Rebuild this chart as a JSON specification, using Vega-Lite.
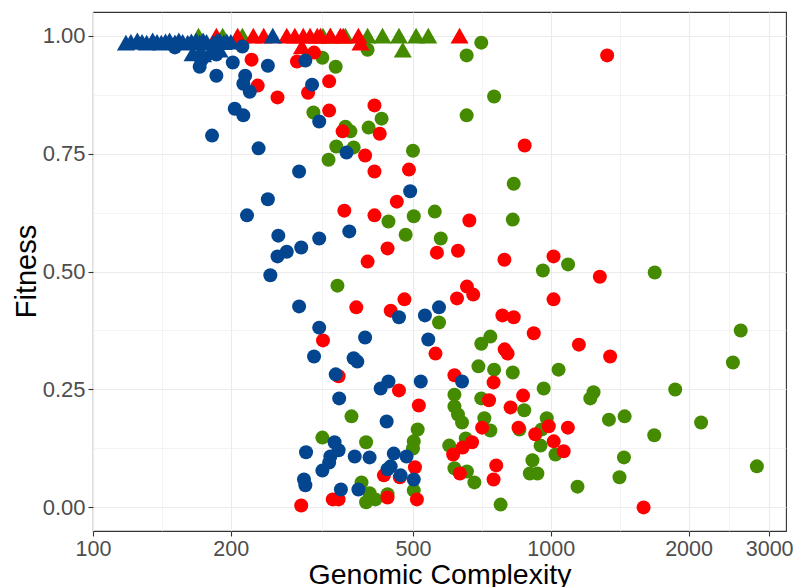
{
"$schema": "https://vega.github.io/schema/vega-lite/v6.json",
"width": 693, "height": 519,
"autosize": {"type": "none"},
"padding": {"left": 93, "top": 12, "right": 8, "bottom": 56},
"background": "white",
"config": {"view": {"stroke": "#333333", "strokeWidth": 1.1}, "font": "Liberation Sans"},
"data": {"values": [
{"group":"G","marker":"triangle","complexity":170,"fitness":1},
{"group":"G","marker":"triangle","complexity":192,"fitness":1},
{"group":"G","marker":"triangle","complexity":212,"fitness":1},
{"group":"G","marker":"triangle","complexity":318,"fitness":1},
{"group":"G","marker":"triangle","complexity":330,"fitness":1},
{"group":"G","marker":"triangle","complexity":356,"fitness":1},
{"group":"G","marker":"triangle","complexity":398,"fitness":1},
{"group":"G","marker":"triangle","complexity":429,"fitness":1},
{"group":"G","marker":"triangle","complexity":466,"fitness":1},
{"group":"G","marker":"triangle","complexity":475,"fitness":0.97},
{"group":"G","marker":"triangle","complexity":508,"fitness":1},
{"group":"G","marker":"triangle","complexity":540,"fitness":1},
{"group":"G","marker":"circle","complexity":317,"fitness":0.953},
{"group":"G","marker":"circle","complexity":339,"fitness":0.934},
{"group":"G","marker":"circle","complexity":398,"fitness":0.970},
{"group":"G","marker":"circle","complexity":303,"fitness":0.837},
{"group":"G","marker":"circle","complexity":356,"fitness":0.807},
{"group":"G","marker":"circle","complexity":365,"fitness":0.797},
{"group":"G","marker":"circle","complexity":400,"fitness":0.805},
{"group":"G","marker":"circle","complexity":427,"fitness":0.824},
{"group":"G","marker":"circle","complexity":340,"fitness":0.765},
{"group":"G","marker":"circle","complexity":371,"fitness":0.763},
{"group":"G","marker":"circle","complexity":327,"fitness":0.737},
{"group":"G","marker":"circle","complexity":500,"fitness":0.756},
{"group":"G","marker":"circle","complexity":655,"fitness":0.958},
{"group":"G","marker":"circle","complexity":705,"fitness":0.985},
{"group":"G","marker":"circle","complexity":655,"fitness":0.831},
{"group":"G","marker":"circle","complexity":752,"fitness":0.871},
{"group":"G","marker":"circle","complexity":830,"fitness":0.686},
{"group":"G","marker":"circle","complexity":442,"fitness":0.606},
{"group":"G","marker":"circle","complexity":502,"fitness":0.617},
{"group":"G","marker":"circle","complexity":558,"fitness":0.627},
{"group":"G","marker":"circle","complexity":482,"fitness":0.578},
{"group":"G","marker":"circle","complexity":575,"fitness":0.570},
{"group":"G","marker":"circle","complexity":342,"fitness":0.470},
{"group":"G","marker":"circle","complexity":570,"fitness":0.392},
{"group":"G","marker":"circle","complexity":826,"fitness":0.610},
{"group":"G","marker":"circle","complexity":961,"fitness":0.502},
{"group":"G","marker":"circle","complexity":1091,"fitness":0.515},
{"group":"G","marker":"circle","complexity":1687,"fitness":0.498},
{"group":"G","marker":"circle","complexity":2600,"fitness":0.375},
{"group":"G","marker":"circle","complexity":738,"fitness":0.362},
{"group":"G","marker":"circle","complexity":705,"fitness":0.347},
{"group":"G","marker":"circle","complexity":367,"fitness":0.193},
{"group":"G","marker":"circle","complexity":512,"fitness":0.165},
{"group":"G","marker":"circle","complexity":317,"fitness":0.148},
{"group":"G","marker":"circle","complexity":395,"fitness":0.138},
{"group":"G","marker":"circle","complexity":502,"fitness":0.140},
{"group":"G","marker":"circle","complexity":500,"fitness":0.125},
{"group":"G","marker":"circle","complexity":386,"fitness":0.053},
{"group":"G","marker":"circle","complexity":402,"fitness":0.030},
{"group":"G","marker":"circle","complexity":440,"fitness":0.028},
{"group":"G","marker":"circle","complexity":502,"fitness":0.036},
{"group":"G","marker":"circle","complexity":395,"fitness":0.011},
{"group":"G","marker":"circle","complexity":414,"fitness":0.017},
{"group":"G","marker":"circle","complexity":2500,"fitness":0.307},
{"group":"G","marker":"circle","complexity":695,"fitness":0.299},
{"group":"G","marker":"circle","complexity":752,"fitness":0.292},
{"group":"G","marker":"circle","complexity":826,"fitness":0.286},
{"group":"G","marker":"circle","complexity":1040,"fitness":0.292},
{"group":"G","marker":"circle","complexity":616,"fitness":0.239},
{"group":"G","marker":"circle","complexity":705,"fitness":0.231},
{"group":"G","marker":"circle","complexity":965,"fitness":0.252},
{"group":"G","marker":"circle","complexity":1240,"fitness":0.244},
{"group":"G","marker":"circle","complexity":1220,"fitness":0.231},
{"group":"G","marker":"circle","complexity":1870,"fitness":0.250},
{"group":"G","marker":"circle","complexity":875,"fitness":0.206},
{"group":"G","marker":"circle","complexity":616,"fitness":0.214},
{"group":"G","marker":"circle","complexity":627,"fitness":0.197},
{"group":"G","marker":"circle","complexity":640,"fitness":0.180},
{"group":"G","marker":"circle","complexity":716,"fitness":0.189},
{"group":"G","marker":"circle","complexity":738,"fitness":0.163},
{"group":"G","marker":"circle","complexity":854,"fitness":0.165},
{"group":"G","marker":"circle","complexity":980,"fitness":0.189},
{"group":"G","marker":"circle","complexity":955,"fitness":0.165},
{"group":"G","marker":"circle","complexity":950,"fitness":0.131},
{"group":"G","marker":"circle","complexity":1024,"fitness":0.112},
{"group":"G","marker":"circle","complexity":1340,"fitness":0.186},
{"group":"G","marker":"circle","complexity":1450,"fitness":0.193},
{"group":"G","marker":"circle","complexity":1683,"fitness":0.153},
{"group":"G","marker":"circle","complexity":2130,"fitness":0.180},
{"group":"G","marker":"circle","complexity":600,"fitness":0.131},
{"group":"G","marker":"circle","complexity":652,"fitness":0.146},
{"group":"G","marker":"circle","complexity":616,"fitness":0.083},
{"group":"G","marker":"circle","complexity":656,"fitness":0.076},
{"group":"G","marker":"circle","complexity":681,"fitness":0.053},
{"group":"G","marker":"circle","complexity":777,"fitness":0.006},
{"group":"G","marker":"circle","complexity":912,"fitness":0.100},
{"group":"G","marker":"circle","complexity":900,"fitness":0.072},
{"group":"G","marker":"circle","complexity":935,"fitness":0.072},
{"group":"G","marker":"circle","complexity":1144,"fitness":0.044},
{"group":"G","marker":"circle","complexity":1445,"fitness":0.106},
{"group":"G","marker":"circle","complexity":1413,"fitness":0.064},
{"group":"G","marker":"circle","complexity":2820,"fitness":0.087},
{"group":"R","marker":"triangle","complexity":186,"fitness":1},
{"group":"R","marker":"triangle","complexity":207,"fitness":1},
{"group":"R","marker":"triangle","complexity":224,"fitness":1},
{"group":"R","marker":"triangle","complexity":236,"fitness":1},
{"group":"R","marker":"triangle","complexity":265,"fitness":1},
{"group":"R","marker":"triangle","complexity":276,"fitness":1},
{"group":"R","marker":"triangle","complexity":286,"fitness":0.977},
{"group":"R","marker":"triangle","complexity":288,"fitness":1},
{"group":"R","marker":"triangle","complexity":298,"fitness":1},
{"group":"R","marker":"triangle","complexity":309,"fitness":1},
{"group":"R","marker":"triangle","complexity":314,"fitness":1},
{"group":"R","marker":"triangle","complexity":330,"fitness":1},
{"group":"R","marker":"triangle","complexity":347,"fitness":1},
{"group":"R","marker":"triangle","complexity":352,"fitness":1},
{"group":"R","marker":"triangle","complexity":380,"fitness":1},
{"group":"R","marker":"triangle","complexity":384,"fitness":0.985},
{"group":"R","marker":"triangle","complexity":632,"fitness":1},
{"group":"R","marker":"circle","complexity":222,"fitness":0.949},
{"group":"R","marker":"circle","complexity":229,"fitness":0.894},
{"group":"R","marker":"circle","complexity":253,"fitness":0.869},
{"group":"R","marker":"circle","complexity":279,"fitness":0.945},
{"group":"R","marker":"circle","complexity":304,"fitness":0.964},
{"group":"R","marker":"circle","complexity":328,"fitness":0.903},
{"group":"R","marker":"circle","complexity":295,"fitness":0.879},
{"group":"R","marker":"circle","complexity":328,"fitness":0.841},
{"group":"R","marker":"circle","complexity":412,"fitness":0.852},
{"group":"R","marker":"circle","complexity":423,"fitness":0.792},
{"group":"R","marker":"circle","complexity":351,"fitness":0.797},
{"group":"R","marker":"circle","complexity":393,"fitness":0.746},
{"group":"R","marker":"circle","complexity":1328,"fitness":0.958},
{"group":"R","marker":"circle","complexity":877,"fitness":0.767},
{"group":"R","marker":"circle","complexity":412,"fitness":0.712},
{"group":"R","marker":"circle","complexity":490,"fitness":0.716},
{"group":"R","marker":"circle","complexity":461,"fitness":0.648},
{"group":"R","marker":"circle","complexity":354,"fitness":0.629},
{"group":"R","marker":"circle","complexity":412,"fitness":0.619},
{"group":"R","marker":"circle","complexity":440,"fitness":0.549},
{"group":"R","marker":"circle","complexity":398,"fitness":0.521},
{"group":"R","marker":"circle","complexity":564,"fitness":0.540},
{"group":"R","marker":"circle","complexity":376,"fitness":0.424},
{"group":"R","marker":"circle","complexity":447,"fitness":0.417},
{"group":"R","marker":"circle","complexity":479,"fitness":0.441},
{"group":"R","marker":"circle","complexity":318,"fitness":0.354},
{"group":"R","marker":"circle","complexity":664,"fitness":0.608},
{"group":"R","marker":"circle","complexity":627,"fitness":0.544},
{"group":"R","marker":"circle","complexity":792,"fitness":0.525},
{"group":"R","marker":"circle","complexity":1014,"fitness":0.532},
{"group":"R","marker":"circle","complexity":1280,"fitness":0.489},
{"group":"R","marker":"circle","complexity":656,"fitness":0.468},
{"group":"R","marker":"circle","complexity":677,"fitness":0.451},
{"group":"R","marker":"circle","complexity":624,"fitness":0.443},
{"group":"R","marker":"circle","complexity":1014,"fitness":0.441},
{"group":"R","marker":"circle","complexity":784,"fitness":0.407},
{"group":"R","marker":"circle","complexity":830,"fitness":0.403},
{"group":"R","marker":"circle","complexity":918,"fitness":0.369},
{"group":"R","marker":"circle","complexity":793,"fitness":0.335},
{"group":"R","marker":"circle","complexity":805,"fitness":0.326},
{"group":"R","marker":"circle","complexity":1152,"fitness":0.345},
{"group":"R","marker":"circle","complexity":560,"fitness":0.326},
{"group":"R","marker":"circle","complexity":1348,"fitness":0.320},
{"group":"R","marker":"circle","complexity":344,"fitness":0.278},
{"group":"R","marker":"circle","complexity":466,"fitness":0.248},
{"group":"R","marker":"circle","complexity":515,"fitness":0.216},
{"group":"R","marker":"circle","complexity":616,"fitness":0.280},
{"group":"R","marker":"circle","complexity":750,"fitness":0.265},
{"group":"R","marker":"circle","complexity":733,"fitness":0.227},
{"group":"R","marker":"circle","complexity":870,"fitness":0.237},
{"group":"R","marker":"circle","complexity":817,"fitness":0.212},
{"group":"R","marker":"circle","complexity":708,"fitness":0.169},
{"group":"R","marker":"circle","complexity":850,"fitness":0.169},
{"group":"R","marker":"circle","complexity":990,"fitness":0.172},
{"group":"R","marker":"circle","complexity":1090,"fitness":0.169},
{"group":"R","marker":"circle","complexity":925,"fitness":0.155},
{"group":"R","marker":"circle","complexity":1015,"fitness":0.140},
{"group":"R","marker":"circle","complexity":1067,"fitness":0.119},
{"group":"R","marker":"circle","complexity":612,"fitness":0.112},
{"group":"R","marker":"circle","complexity":642,"fitness":0.127},
{"group":"R","marker":"circle","complexity":673,"fitness":0.138},
{"group":"R","marker":"circle","complexity":432,"fitness":0.068},
{"group":"R","marker":"circle","complexity":468,"fitness":0.064},
{"group":"R","marker":"circle","complexity":505,"fitness":0.085},
{"group":"R","marker":"circle","complexity":440,"fitness":0.021},
{"group":"R","marker":"circle","complexity":285,"fitness":0.004},
{"group":"R","marker":"circle","complexity":334,"fitness":0.017},
{"group":"R","marker":"circle","complexity":344,"fitness":0.017},
{"group":"R","marker":"circle","complexity":510,"fitness":0.017},
{"group":"R","marker":"circle","complexity":633,"fitness":0.072},
{"group":"R","marker":"circle","complexity":760,"fitness":0.089},
{"group":"R","marker":"circle","complexity":750,"fitness":0.059},
{"group":"R","marker":"circle","complexity":1595,"fitness":0.0},
{"group":"B","marker":"triangle","complexity":118,"fitness":0.985},
{"group":"B","marker":"triangle","complexity":121,"fitness":0.987},
{"group":"B","marker":"triangle","complexity":125,"fitness":0.99},
{"group":"B","marker":"triangle","complexity":128,"fitness":0.987},
{"group":"B","marker":"triangle","complexity":131,"fitness":0.985},
{"group":"B","marker":"triangle","complexity":135,"fitness":0.99},
{"group":"B","marker":"triangle","complexity":138,"fitness":0.987},
{"group":"B","marker":"triangle","complexity":141,"fitness":0.985},
{"group":"B","marker":"triangle","complexity":144,"fitness":0.988},
{"group":"B","marker":"triangle","complexity":147,"fitness":0.99},
{"group":"B","marker":"triangle","complexity":151,"fitness":0.986},
{"group":"B","marker":"triangle","complexity":154,"fitness":0.99},
{"group":"B","marker":"triangle","complexity":157,"fitness":0.987},
{"group":"B","marker":"triangle","complexity":161,"fitness":0.985},
{"group":"B","marker":"triangle","complexity":164,"fitness":0.988},
{"group":"B","marker":"triangle","complexity":168,"fitness":0.99},
{"group":"B","marker":"triangle","complexity":171,"fitness":0.986},
{"group":"B","marker":"triangle","complexity":174,"fitness":0.99},
{"group":"B","marker":"triangle","complexity":177,"fitness":0.987},
{"group":"B","marker":"triangle","complexity":183,"fitness":0.985},
{"group":"B","marker":"triangle","complexity":186,"fitness":0.988},
{"group":"B","marker":"triangle","complexity":189,"fitness":0.99},
{"group":"B","marker":"triangle","complexity":193,"fitness":0.986},
{"group":"B","marker":"triangle","complexity":196,"fitness":0.988},
{"group":"B","marker":"triangle","complexity":200,"fitness":0.987},
{"group":"B","marker":"triangle","complexity":247,"fitness":1},
{"group":"B","marker":"triangle","complexity":165,"fitness":0.962},
{"group":"B","marker":"triangle","complexity":174,"fitness":0.96},
{"group":"B","marker":"triangle","complexity":180,"fitness":0.965},
{"group":"B","marker":"triangle","complexity":189,"fitness":0.97},
{"group":"B","marker":"circle","complexity":151,"fitness":0.975},
{"group":"B","marker":"circle","complexity":173,"fitness":0.949},
{"group":"B","marker":"circle","complexity":171,"fitness":0.934},
{"group":"B","marker":"circle","complexity":186,"fitness":0.96},
{"group":"B","marker":"circle","complexity":186,"fitness":0.915},
{"group":"B","marker":"circle","complexity":202,"fitness":0.943},
{"group":"B","marker":"circle","complexity":212,"fitness":0.977},
{"group":"B","marker":"circle","complexity":215,"fitness":0.915},
{"group":"B","marker":"circle","complexity":213,"fitness":0.898},
{"group":"B","marker":"circle","complexity":220,"fitness":0.881},
{"group":"B","marker":"circle","complexity":241,"fitness":0.936},
{"group":"B","marker":"circle","complexity":204,"fitness":0.845},
{"group":"B","marker":"circle","complexity":213,"fitness":0.831},
{"group":"B","marker":"circle","complexity":182,"fitness":0.788},
{"group":"B","marker":"circle","complexity":230,"fitness":0.761},
{"group":"B","marker":"circle","complexity":291,"fitness":0.947},
{"group":"B","marker":"circle","complexity":301,"fitness":0.896},
{"group":"B","marker":"circle","complexity":312,"fitness":0.818},
{"group":"B","marker":"circle","complexity":358,"fitness":0.752},
{"group":"B","marker":"circle","complexity":282,"fitness":0.712},
{"group":"B","marker":"circle","complexity":241,"fitness":0.653},
{"group":"B","marker":"circle","complexity":217,"fitness":0.619},
{"group":"B","marker":"circle","complexity":493,"fitness":0.67},
{"group":"B","marker":"circle","complexity":254,"fitness":0.576},
{"group":"B","marker":"circle","complexity":363,"fitness":0.585},
{"group":"B","marker":"circle","complexity":312,"fitness":0.570},
{"group":"B","marker":"circle","complexity":265,"fitness":0.542},
{"group":"B","marker":"circle","complexity":253,"fitness":0.532},
{"group":"B","marker":"circle","complexity":285,"fitness":0.551},
{"group":"B","marker":"circle","complexity":244,"fitness":0.492},
{"group":"B","marker":"circle","complexity":282,"fitness":0.426},
{"group":"B","marker":"circle","complexity":466,"fitness":0.403},
{"group":"B","marker":"circle","complexity":531,"fitness":0.407},
{"group":"B","marker":"circle","complexity":570,"fitness":0.424},
{"group":"B","marker":"circle","complexity":312,"fitness":0.381},
{"group":"B","marker":"circle","complexity":393,"fitness":0.360},
{"group":"B","marker":"circle","complexity":540,"fitness":0.356},
{"group":"B","marker":"circle","complexity":640,"fitness":0.267},
{"group":"B","marker":"circle","complexity":304,"fitness":0.320},
{"group":"B","marker":"circle","complexity":371,"fitness":0.316},
{"group":"B","marker":"circle","complexity":378,"fitness":0.309},
{"group":"B","marker":"circle","complexity":339,"fitness":0.282},
{"group":"B","marker":"circle","complexity":425,"fitness":0.252},
{"group":"B","marker":"circle","complexity":442,"fitness":0.267},
{"group":"B","marker":"circle","complexity":520,"fitness":0.267},
{"group":"B","marker":"circle","complexity":345,"fitness":0.231},
{"group":"B","marker":"circle","complexity":438,"fitness":0.182},
{"group":"B","marker":"circle","complexity":337,"fitness":0.138},
{"group":"B","marker":"circle","complexity":344,"fitness":0.121},
{"group":"B","marker":"circle","complexity":292,"fitness":0.117},
{"group":"B","marker":"circle","complexity":330,"fitness":0.108},
{"group":"B","marker":"circle","complexity":373,"fitness":0.108},
{"group":"B","marker":"circle","complexity":402,"fitness":0.106},
{"group":"B","marker":"circle","complexity":454,"fitness":0.114},
{"group":"B","marker":"circle","complexity":484,"fitness":0.108},
{"group":"B","marker":"circle","complexity":317,"fitness":0.078},
{"group":"B","marker":"circle","complexity":328,"fitness":0.095},
{"group":"B","marker":"circle","complexity":447,"fitness":0.087},
{"group":"B","marker":"circle","complexity":440,"fitness":0.081},
{"group":"B","marker":"circle","complexity":470,"fitness":0.068},
{"group":"B","marker":"circle","complexity":502,"fitness":0.059},
{"group":"B","marker":"circle","complexity":289,"fitness":0.059},
{"group":"B","marker":"circle","complexity":291,"fitness":0.047},
{"group":"B","marker":"circle","complexity":348,"fitness":0.038},
{"group":"B","marker":"circle","complexity":380,"fitness":0.038},
{"group":"B","marker":"circle","complexity":171,"fitness":0.956}
]},
"mark": {"type": "point", "filled": true, "opacity": 1, "strokeWidth": 0},
"encoding": {
  "x": {"field": "complexity", "type": "quantitative",
    "scale": {"type": "log", "domain": [100, 3265], "nice": false},
    "axis": {"title": "Genomic Complexity",
      "values": [100, 141.42, 200, 316.23, 500, 707.11, 1000, 1414.21, 2000, 2449.49, 3000],
      "labelExpr": "indexof([100,200,500,1000,2000,3000], datum.value) >= 0 ? format(datum.value, 'd') : ''",
      "labelFlush": false, "labelOverlap": false, "domain": false,
      "tickSize": 5, "tickWidth": 1.1,
      "tickColor": {"condition": {"test": "indexof([100,200,500,1000,2000,3000], datum.value) >= 0", "value": "#333333"}, "value": "rgba(0,0,0,0)"},
      "gridColor": "#ebebeb",
      "gridWidth": {"condition": {"test": "indexof([100,200,500,1000,2000,3000], datum.value) >= 0", "value": 1.1}, "value": 0.6},
      "labelFont": "Liberation Sans", "labelFontSize": 21.5, "labelColor": "#4d4d4d", "labelPadding": 2,
      "titleFont": "Liberation Sans", "titleFontSize": 28.5, "titleFontWeight": "normal", "titleColor": "#000000",
      "titleBaseline": "alphabetic", "titleY": 52}},
  "y": {"field": "fitness", "type": "quantitative",
    "scale": {"domain": [-0.05, 1.05], "nice": false, "zero": false},
    "axis": {"title": "Fitness",
      "values": [0, 0.125, 0.25, 0.375, 0.5, 0.625, 0.75, 0.875, 1],
      "labelExpr": "(datum.value * 4) % 1 === 0 ? format(datum.value, '.2f') : ''",
      "labelOverlap": false, "domain": false,
      "tickSize": 5, "tickWidth": 1.1,
      "tickColor": {"condition": {"test": "(datum.value * 4) % 1 === 0", "value": "#333333"}, "value": "rgba(0,0,0,0)"},
      "gridColor": "#ebebeb",
      "gridWidth": {"condition": {"test": "(datum.value * 4) % 1 === 0", "value": 1.1}, "value": 0.6},
      "labelFont": "Liberation Sans", "labelFontSize": 22, "labelColor": "#4d4d4d", "labelPadding": 3,
      "titleFont": "Liberation Sans", "titleFontSize": 29, "titleFontWeight": "normal", "titleColor": "#000000",
      "titleBaseline": "alphabetic", "titleAngle": -90, "titleX": -58, "titleY": 259}},
  "color": {"field": "group", "type": "nominal",
    "scale": {"domain": ["G", "R", "B"], "range": ["#458B00", "#FF0000", "#03468F"]}, "legend": null},
  "shape": {"field": "marker", "type": "nominal",
    "scale": {"domain": ["circle", "triangle"], "range": ["circle", "triangle-up"]}, "legend": null},
  "size": {"condition": {"test": "datum.marker === 'triangle'", "value": 324}, "value": 196}
}
}
